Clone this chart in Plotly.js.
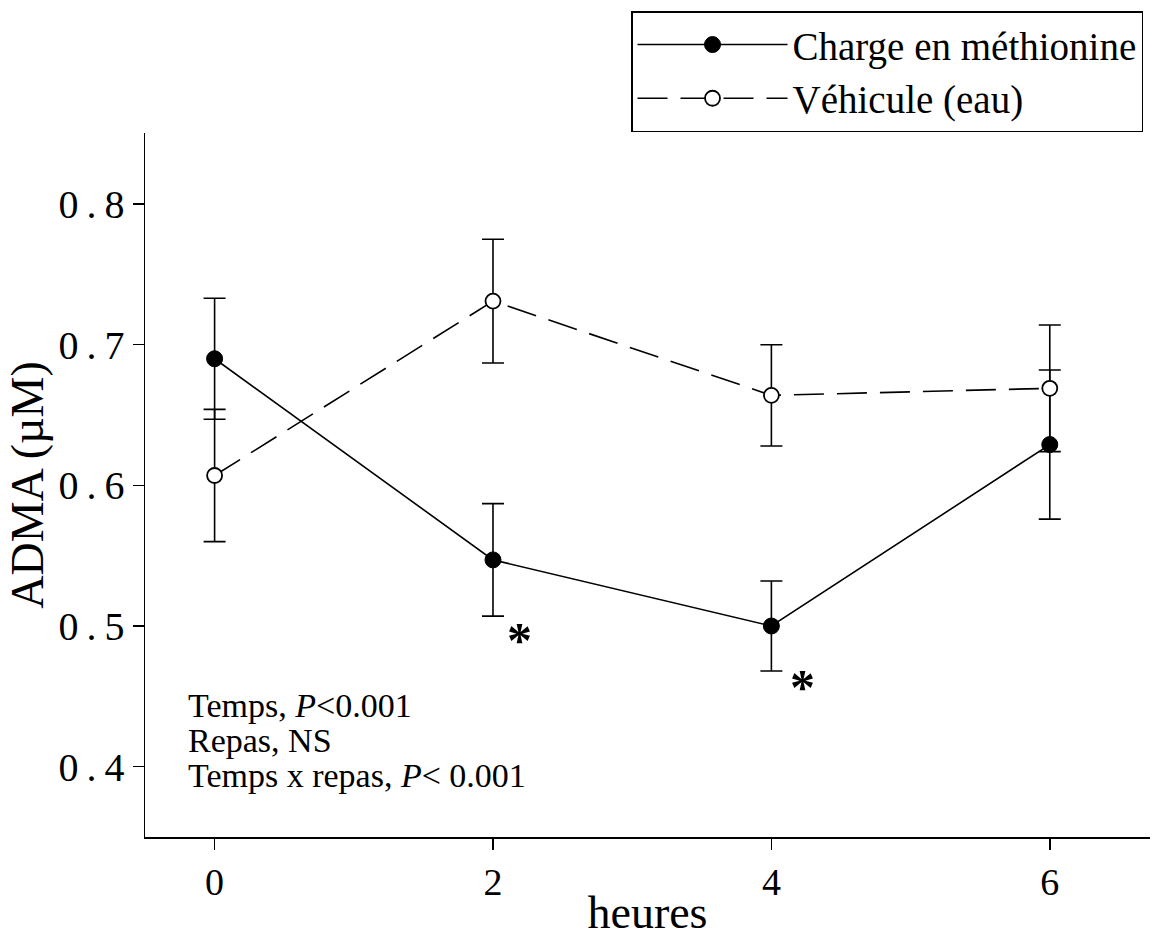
<!DOCTYPE html>
<html><head><meta charset="utf-8">
<script src="https://cdn.plot.ly/plotly-3.0.1.min.js"></script>
<style>
html,body{margin:0;padding:0;background:#fff}
.ytick text{letter-spacing:8px}
</style>
</head><body>
<div id="chart" style="width:1152px;height:938px"></div>
<script>
// ---- data ----
const hours = [0, 2, 4, 6];
const chargeMean = [0.690, 0.547, 0.500, 0.629];
const chargeErr = [0.043, 0.040, 0.032, 0.053];
const vehiculeMean = [0.607, 0.731, 0.664, 0.669];
const vehiculeErr = [0.047, 0.044, 0.036, 0.045];
const seriesNames = ['Charge en méthionine', 'Véhicule (eau)'];
const xTicks = [0, 2, 4, 6];
const xTickLabels = ['0', '2', '4', '6'];
const yTicks = [0.4, 0.5, 0.6, 0.7, 0.8];
const yTickLabels = ['0.4', '0.5', '0.6', '0.7', '0.8'];
const starHours = [2, 4];
const statLines = ['Temps, <i>P</i>&lt;0.001', 'Repas, NS', 'Temps x repas, <i>P</i>&lt; 0.001'];

const FONT = 'Liberation Serif, Times New Roman, serif';

const charge = {
  x: hours, y: chargeMean, name: seriesNames[0], type: 'scatter', mode: 'lines+markers',
  line: {color: '#000', width: 1.6},
  marker: {symbol: 'circle', size: 16, color: '#000', line: {color: '#000', width: 1}},
  error_y: {type: 'data', array: chargeErr, visible: true, color: '#000', thickness: 1.6, width: 11}
};
const vehicule = {
  x: hours, y: vehiculeMean, name: seriesNames[1], type: 'scatter', mode: 'lines+markers',
  line: {color: '#000', width: 1.6, dash: '30px,13px'},
  marker: {symbol: 'circle', size: 15, color: '#fff', line: {color: '#000', width: 1.8}},
  error_y: {type: 'data', array: vehiculeErr, visible: true, color: '#000', thickness: 1.6, width: 11}
};

const annotations = [];
// significance stars placed just below-right of the lower error cap
const starOffsets = [[27, -24], [31, -16]];
starHours.forEach((h, k) => {
  const i = hours.indexOf(h);
  annotations.push({
    x: h, y: chargeMean[i] - chargeErr[i], xref: 'x', yref: 'y',
    text: '<b>*</b>', showarrow: false, xanchor: 'center', yanchor: 'middle',
    xshift: starOffsets[k][0], yshift: starOffsets[k][1],
    font: {family: FONT, size: 50, color: '#000'}
  });
});
const statY = [0.4435, 0.4186, 0.3937];
statLines.forEach((t, k) => {
  annotations.push({
    x: -0.205, y: statY[k], xref: 'x', yref: 'y', text: t, showarrow: false,
    xanchor: 'left', yanchor: 'middle', font: {family: FONT, size: 34, color: '#000'}
  });
});

const layout = {
  width: 1152, height: 938,
  margin: {l: 145, r: 2, t: 133, b: 101},
  paper_bgcolor: '#fff', plot_bgcolor: '#fff',
  font: {family: FONT, color: '#000'},
  showlegend: true,
  legend: {
    x: 0.4836, y: 1.173, xanchor: 'left', yanchor: 'top',
    bordercolor: '#000', borderwidth: 1.5, bgcolor: '#fff',
    font: {family: FONT, size: 39, color: '#000'},
    itemwidth: 150
  },
  xaxis: {
    range: [-0.5, 6.72], tickvals: xTicks, ticktext: xTickLabels,
    showline: true, linecolor: '#000', linewidth: 1.5, mirror: false,
    ticks: 'outside', ticklen: 11, tickwidth: 1.5, tickcolor: '#000',
    showgrid: false, zeroline: false,
    tickfont: {family: FONT, size: 38, color: '#000'},
    title: {text: 'heures', font: {family: FONT, size: 46, color: '#000'}, standoff: 0}
  },
  yaxis: {
    range: [0.35, 0.8505], tickvals: yTicks, ticktext: yTickLabels,
    showline: true, linecolor: '#000', linewidth: 1.5,
    ticks: 'outside', ticklen: 11, tickwidth: 1.5, tickcolor: '#000',
    ticklabelstandoff: -8,
    showgrid: false, zeroline: false,
    tickfont: {family: FONT, size: 40, color: '#000'},
    title: {text: 'ADMA (µM)', font: {family: FONT, size: 46, color: '#000'}, standoff: 0}
  },
  annotations: annotations
};

Plotly.newPlot('chart', [charge, vehicule], layout, {staticPlot: true, displayModeBar: false});
</script>
</body></html>
